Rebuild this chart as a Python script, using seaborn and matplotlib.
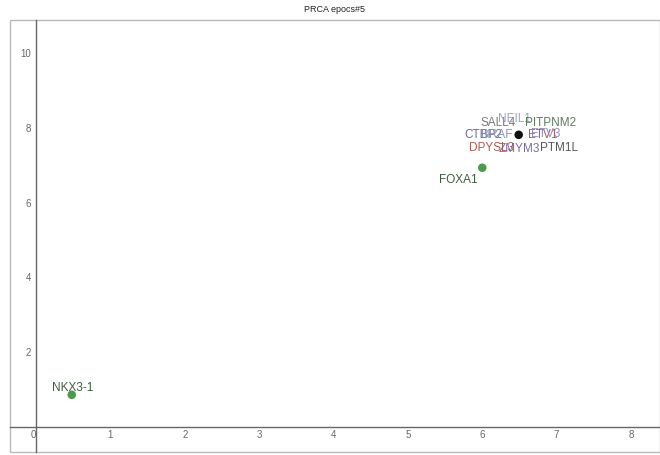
import matplotlib
matplotlib.use("Agg")
import matplotlib.pyplot as plt
import seaborn as sns
import pandas as pd
from matplotlib.patches import Rectangle

# Gene positions on the two components
genes = ["NKX3-1", "FOXA1", "HUB"]
comp_x = [0.48, 6.00, 6.49]
comp_y = [0.86, 6.93, 7.81]
group = ["driver", "driver", "cluster"]

# Labels stacked on the cluster point
cluster_labels = ["SALL4", "NEIL1", "PITPNM2", "CTBP2", "BRAF",
                  "ETV1", "ETV3", "DPYSL3", "ZMYM3", "PTM1L"]

x_ticks = [0, 1, 2, 3, 4, 5, 6, 7, 8]
y_ticks = [2, 4, 6, 8, 10]

sns.set_style("white")
plt.rcParams["font.family"] = ["Liberation Sans", "DejaVu Sans"]

df = pd.DataFrame({"gene": genes, "x": comp_x, "y": comp_y, "group": group})

fig = plt.figure(figsize=(6.6, 4.55), dpi=100)
ax = fig.add_axes([10 / 660, 3 / 455, 650 / 660, 432 / 455])

sns.scatterplot(data=df, x="x", y="y", hue="group",
                palette={"driver": "#4c9a4c", "cluster": "#111111"},
                s=38, edgecolor="none", legend=False, ax=ax, zorder=3)

ax.set_xlim(-0.35, 8.39)
ax.set_ylim(-0.67, 10.88)
ax.set_xlabel("")
ax.set_ylabel("")

# Axes cross at the origin
for side in ["left", "bottom"]:
    ax.spines[side].set_position(("data", 0))
    ax.spines[side].set_color("#666666")
    ax.spines[side].set_linewidth(1.0)
for side in ["top", "right"]:
    ax.spines[side].set_visible(False)

ax.add_patch(Rectangle((0, 0), 1, 1, transform=ax.transAxes, fill=False,
                       edgecolor="#bbbbbb", linewidth=1.0, clip_on=False, zorder=0))

ax.set_xticks(x_ticks)
ax.set_yticks(y_ticks)
ax.tick_params(axis="both", direction="inout", length=5, width=0.8,
               colors="#444444", labelsize=7, labelcolor="#666666", pad=1)
ax.tick_params(axis="x", pad=0)
for lbl in ax.get_xticklabels():
    if lbl.get_text() == "0":
        lbl.set_horizontalalignment("right")

ax.set_title("PRCA epocs#5", fontsize=6.5, color="#222222", pad=6)

# Point labels
driver_style = {"NKX3-1": ((1, 7), "#3d5e3d"), "FOXA1": ((-24, -12), "#3d5e3d")}
for g, xv, yv in zip(genes, comp_x, comp_y):
    if g in driver_style:
        off, col = driver_style[g]
        ax.annotate(g, (xv, yv), xytext=off, textcoords="offset pixels",
                    ha="center", va="center", fontsize=8.5, color=col)

cluster_style = {
    "SALL4": ((-21, 12), "#6b6b6b"),
    "NEIL1": ((-4, 16), "#8d9cbc"),
    "PITPNM2": ((32, 12), "#4d6e4d"),
    "CTBP2": ((-35, 0), "#5b5b8e"),
    "BRAF": ((-22, 0), "#7d88b4"),
    "ETV1": ((24, 0), "#a44848"),
    "ETV3": ((27, 1), "#8a7fb8"),
    "DPYSL3": ((-27, -13), "#a14a3c"),
    "ZMYM3": ((1, -14), "#6b5c9e"),
    "PTM1L": ((40, -13), "#454545"),
}
cx, cy = comp_x[2], comp_y[2]
for lab in cluster_labels:
    off, col = cluster_style[lab]
    ax.annotate(lab, (cx, cy), xytext=off, textcoords="offset pixels",
                ha="center", va="center", fontsize=8.5, color=col, alpha=0.9)

fig.savefig("out.png", dpi=100)
